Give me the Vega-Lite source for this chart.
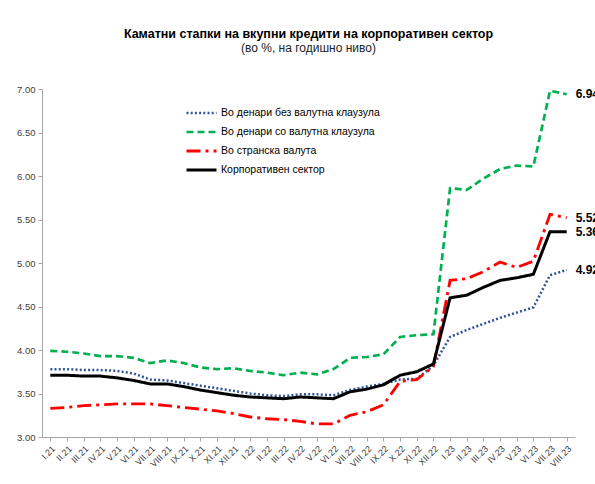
{
  "$schema": "https://vega.github.io/schema/vega-lite/v6.json",
  "autosize": {"type": "none"},
  "padding": {"left": 42, "top": 89, "right": 20, "bottom": 47},
  "width": 533,
  "height": 348,
  "background": "white",
  "title": {
    "text": "Каматни стапки на вкупни кредити на корпоративен сектор",
    "subtitle": "(во %, на годишно ниво)",
    "anchor": "middle",
    "font": "Liberation Sans",
    "fontSize": 12.5,
    "fontWeight": "bold",
    "color": "#000000",
    "subtitleFont": "Liberation Sans",
    "subtitleFontSize": 12,
    "subtitleColor": "#222222",
    "subtitlePadding": 3,
    "offset": 30
  },
  "data": {
    "values": [
      {"m": "I.21", "a": 3.78, "b": 3.99, "c": 3.33, "d": 3.71},
      {"m": "II.21", "a": 3.78, "b": 3.98, "c": 3.34, "d": 3.71},
      {"m": "III.21", "a": 3.77, "b": 3.96, "c": 3.36, "d": 3.70},
      {"m": "IV.21", "a": 3.77, "b": 3.93, "c": 3.37, "d": 3.70},
      {"m": "V.21", "a": 3.76, "b": 3.93, "c": 3.38, "d": 3.68},
      {"m": "VI.21", "a": 3.73, "b": 3.91, "c": 3.38, "d": 3.65},
      {"m": "VII.21", "a": 3.66, "b": 3.85, "c": 3.38, "d": 3.61},
      {"m": "VIII.21", "a": 3.65, "b": 3.88, "c": 3.36, "d": 3.61},
      {"m": "IX.21", "a": 3.62, "b": 3.85, "c": 3.34, "d": 3.58},
      {"m": "X.21", "a": 3.59, "b": 3.80, "c": 3.32, "d": 3.54},
      {"m": "XI.21", "a": 3.56, "b": 3.78, "c": 3.30, "d": 3.51},
      {"m": "XII.21", "a": 3.53, "b": 3.79, "c": 3.27, "d": 3.48},
      {"m": "I.22", "a": 3.50, "b": 3.76, "c": 3.23, "d": 3.46},
      {"m": "II.22", "a": 3.48, "b": 3.74, "c": 3.21, "d": 3.45},
      {"m": "III.22", "a": 3.47, "b": 3.71, "c": 3.20, "d": 3.44},
      {"m": "IV.22", "a": 3.49, "b": 3.74, "c": 3.18, "d": 3.46},
      {"m": "V.22", "a": 3.49, "b": 3.72, "c": 3.15, "d": 3.45},
      {"m": "VI.22", "a": 3.48, "b": 3.78, "c": 3.15, "d": 3.44},
      {"m": "VII.22", "a": 3.54, "b": 3.91, "c": 3.25, "d": 3.52},
      {"m": "VIII.22", "a": 3.58, "b": 3.92, "c": 3.29, "d": 3.55},
      {"m": "IX.22", "a": 3.61, "b": 3.95, "c": 3.37, "d": 3.60},
      {"m": "X.22", "a": 3.66, "b": 4.15, "c": 3.64, "d": 3.71},
      {"m": "XI.22", "a": 3.67, "b": 4.17, "c": 3.66, "d": 3.75},
      {"m": "XII.22", "a": 3.82, "b": 4.18, "c": 3.81, "d": 3.84},
      {"m": "I.23", "a": 4.15, "b": 5.86, "c": 4.80, "d": 4.60},
      {"m": "II.23", "a": 4.23, "b": 5.84, "c": 4.82, "d": 4.63},
      {"m": "III.23", "a": 4.30, "b": 5.97, "c": 4.90, "d": 4.72},
      {"m": "IV.23", "a": 4.37, "b": 6.08, "c": 5.01, "d": 4.80},
      {"m": "V.23", "a": 4.43, "b": 6.12, "c": 4.95, "d": 4.83},
      {"m": "VI.23", "a": 4.49, "b": 6.11, "c": 5.02, "d": 4.87},
      {"m": "VII.23", "a": 4.86, "b": 6.98, "c": 5.56, "d": 5.36},
      {"m": "VIII.23", "a": 4.92, "b": 6.94, "c": 5.52, "d": 5.36}
    ]
  },
  "transform": [
    {"fold": ["a", "b", "c", "d"], "as": ["s", "v"]}
  ],
  "encoding": {
    "x": {
      "field": "m",
      "type": "ordinal",
      "sort": null,
      "scale": {"type": "point", "padding": 0.5},
      "axis": {
        "title": null,
        "labelAngle": -45,
        "labelFontSize": 9,
        "labelFont": "Liberation Sans",
        "labelColor": "#404040",
        "domainColor": "#A6A6A6",
        "tickColor": "#A6A6A6",
        "tickSize": 4,
        "labelPadding": 3
      }
    },
    "y": {
      "field": "v",
      "type": "quantitative",
      "scale": {"domain": [3, 7], "nice": false, "zero": false},
      "axis": {
        "title": null,
        "values": [3, 3.5, 4, 4.5, 5, 5.5, 6, 6.5, 7],
        "format": ".2f",
        "grid": false,
        "labelFontSize": 9.5,
        "labelFont": "Liberation Sans",
        "labelColor": "#404040",
        "domainColor": "#A6A6A6",
        "tickColor": "#A6A6A6",
        "tickSize": 4,
        "labelPadding": 3
      }
    }
  },
  "layer": [
    {
      "mark": {"type": "line", "clip": false},
      "encoding": {
        "color": {
          "field": "s",
          "type": "nominal",
          "scale": {"domain": ["a", "b", "c", "d"], "range": ["#2F5597", "#00B050", "#FF0000", "#000000"]},
          "legend": {
            "title": null,
            "orient": "none",
            "legendX": 143,
            "legendY": 14.5,
            "symbolType": "stroke",
            "symbolSize": 900,
            "symbolStrokeWidth": 3,
            "labelFont": "Liberation Sans",
            "labelFontSize": 10.5,
            "labelOffset": 3,
            "labelLimit": 400,
            "labelColor": "#000000",
            "rowPadding": 0,
            "clipHeight": 19,
            "labelExpr": "{'a':'Во денари без валутна клаузула','b':'Во денари со валутна клаузула','c':'Во странска валута','d':'Корпоративен сектор'}[datum.label]"
          }
        },
        "strokeDash": {
          "field": "s",
          "type": "nominal",
          "scale": {"domain": ["a", "b", "c", "d"], "range": [[2, 2.2], [7, 4], [14, 5, 3, 5], [1, 0]]},
          "legend": {
            "title": null,
            "orient": "none",
            "legendX": 143,
            "legendY": 14.5,
            "symbolType": "stroke",
            "symbolSize": 900,
            "symbolStrokeWidth": 3,
            "labelFont": "Liberation Sans",
            "labelFontSize": 10.5,
            "labelOffset": 3,
            "labelLimit": 400,
            "labelColor": "#000000",
            "rowPadding": 0,
            "clipHeight": 19,
            "labelExpr": "{'a':'Во денари без валутна клаузула','b':'Во денари со валутна клаузула','c':'Во странска валута','d':'Корпоративен сектор'}[datum.label]"
          }
        },
        "strokeWidth": {
          "field": "s",
          "type": "nominal",
          "scale": {"domain": ["a", "b", "c", "d"], "range": [2.5, 3, 3, 3.5]},
          "legend": null
        }
      }
    },
    {
      "transform": [{"filter": "datum.m === 'VIII.23'"}],
      "mark": {
        "type": "text",
        "align": "left",
        "baseline": "middle",
        "dx": 9,
        "font": "Liberation Sans",
        "fontSize": 12,
        "fontWeight": "bold",
        "color": "#000000",
        "clip": false
      },
      "encoding": {
        "text": {"field": "v", "type": "quantitative", "format": ".2f"}
      }
    }
  ],
  "config": {
    "view": {"stroke": null}
  }
}
